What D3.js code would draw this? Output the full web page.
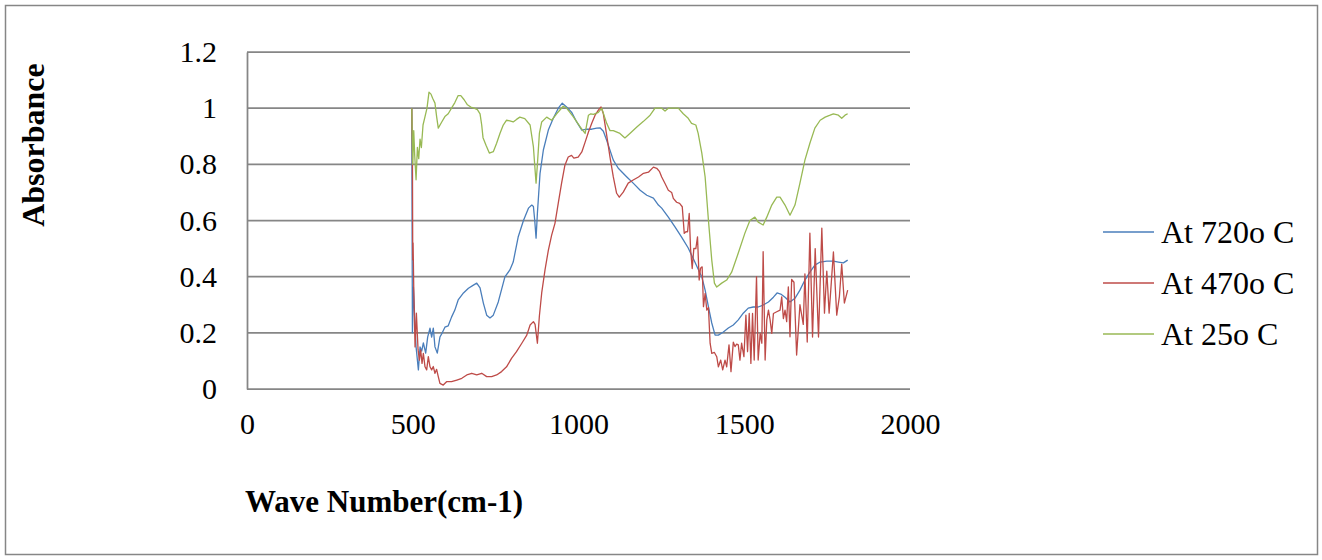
<!DOCTYPE html>
<html><head><meta charset="utf-8">
<script src="https://cdn.jsdelivr.net/npm/d3@7"></script>
<style>
html,body{margin:0;padding:0;background:#fff;}
svg{display:block;}
text{font-family:"Liberation Serif","Times New Roman",serif;fill:#000;}
</style></head>
<body>
<svg id="chart" width="1322" height="560"></svg>
<script>
// ---- data ----
const xTicks = [0, 500, 1000, 1500, 2000];
const yTicks = [0, 0.2, 0.4, 0.6, 0.8, 1, 1.2];
const yTickLabels = ["0", "0.2", "0.4", "0.6", "0.8", "1", "1.2"];
const seriesNames = ["At 720o C", "At 470o C", "At 25o C"];
const seriesColors = ["#4a7ebb", "#be4b48", "#98b954"];

const wn720 = [497,499,502,506,510,517,522,527,532,539,545,552,557,562,567,574,582,589,597,607,617,627,637,653,668,683,693,703,713,723,733,743,758,778,793,803,818,834,849,859,864,868,872,876,884,894,909,924,939,951,964,979,995,1010,1025,1040,1055,1065,1075,1085,1105,1120,1145,1165,1186,1206,1226,1241,1251,1271,1291,1311,1331,1351,1372,1382,1392,1402,1412,1422,1437,1452,1467,1482,1497,1512,1527,1542,1557,1573,1588,1599,1610,1623,1638,1653,1668,1683,1698,1713,1729,1749,1769,1784,1799,1812];
const abs720 = [1.0,0.2,0.363,0.25,0.15,0.068,0.15,0.135,0.164,0.128,0.185,0.217,0.185,0.217,0.15,0.128,0.185,0.2,0.22,0.225,0.256,0.281,0.317,0.342,0.359,0.37,0.377,0.36,0.306,0.263,0.253,0.263,0.31,0.399,0.424,0.452,0.541,0.6,0.644,0.655,0.65,0.6,0.537,0.626,0.768,0.851,0.922,0.964,1.0,1.018,1.004,0.986,0.95,0.922,0.925,0.925,0.929,0.93,0.918,0.886,0.815,0.786,0.756,0.733,0.708,0.69,0.68,0.655,0.644,0.612,0.577,0.541,0.502,0.452,0.399,0.352,0.292,0.235,0.192,0.192,0.203,0.217,0.228,0.246,0.27,0.288,0.292,0.292,0.299,0.31,0.327,0.342,0.338,0.327,0.31,0.323,0.352,0.388,0.416,0.441,0.452,0.455,0.455,0.452,0.449,0.459];

const wn470 = [497,499,500,501,503,507,511,516,520,524,528,532,537,542,547,552,557,562,567,572,577,582,592,602,617,633,648,663,678,693,708,723,738,753,768,783,798,813,829,844,854,864,869,876,882,889,899,909,919,929,939,949,959,969,979,986,999,1010,1020,1030,1040,1050,1060,1068,1075,1085,1095,1105,1115,1123,1135,1150,1165,1181,1196,1211,1226,1236,1244,1251,1261,1271,1281,1286,1296,1305,1313,1319,1324,1329,1334,1338,1343,1348,1354,1359,1364,1368,1373,1377,1382,1387,1392,1397,1402,1410,1417,1422,1429,1435,1442,1447,1454,1460,1467,1472,1477,1482,1487,1492,1499,1505,1510,1515,1520,1525,1530,1537,1542,1548,1553,1557,1563,1568,1573,1578,1583,1588,1598,1608,1613,1618,1623,1628,1633,1638,1643,1650,1658,1668,1678,1683,1690,1698,1706,1714,1724,1734,1742,1749,1756,1761,1769,1779,1787,1794,1802,1812];
const abs470 = [1.0,0.84,0.46,0.52,0.36,0.15,0.27,0.14,0.103,0.139,0.091,0.127,0.079,0.068,0.115,0.079,0.068,0.08,0.056,0.07,0.044,0.02,0.014,0.026,0.026,0.032,0.038,0.05,0.056,0.05,0.056,0.044,0.044,0.05,0.062,0.079,0.109,0.133,0.163,0.192,0.228,0.24,0.23,0.163,0.26,0.342,0.424,0.494,0.548,0.59,0.662,0.733,0.797,0.826,0.832,0.822,0.826,0.844,0.879,0.915,0.946,0.975,0.993,1.004,0.98,0.904,0.826,0.755,0.697,0.683,0.701,0.733,0.744,0.755,0.768,0.772,0.79,0.786,0.775,0.755,0.732,0.708,0.7,0.679,0.665,0.661,0.649,0.554,0.56,0.56,0.625,0.5,0.429,0.501,0.5,0.542,0.388,0.43,0.435,0.293,0.34,0.281,0.29,0.163,0.127,0.13,0.115,0.079,0.103,0.068,0.103,0.079,0.157,0.062,0.167,0.151,0.16,0.157,0.103,0.163,0.115,0.263,0.133,0.269,0.091,0.269,0.103,0.4,0.103,0.198,0.163,0.489,0.103,0.246,0.281,0.246,0.198,0.269,0.275,0.281,0.328,0.251,0.281,0.24,0.364,0.186,0.39,0.38,0.121,0.3,0.23,0.41,0.167,0.555,0.185,0.5,0.185,0.573,0.27,0.42,0.27,0.352,0.488,0.263,0.329,0.445,0.306,0.352];

const wn25 = [497,500,503,506,510,514,518,522,526,531,537,543,549,555,560,567,572,577,587,597,607,617,627,637,645,655,665,675,685,695,703,708,712,721,731,743,753,763,773,783,793,803,813,823,838,854,864,869,872,876,882,889,904,919,934,954,964,984,1005,1020,1030,1037,1045,1060,1070,1085,1095,1105,1125,1140,1155,1176,1196,1216,1231,1251,1261,1271,1301,1316,1331,1341,1354,1361,1372,1382,1392,1402,1410,1417,1432,1447,1462,1482,1502,1517,1532,1542,1557,1568,1583,1598,1608,1623,1638,1653,1668,1683,1698,1713,1729,1744,1759,1769,1784,1794,1804,1812];
const abs25 = [1.0,0.8,0.92,0.83,0.745,0.86,0.82,0.89,0.86,0.94,0.97,1.0,1.057,1.05,1.035,1.018,0.97,0.929,0.95,0.97,0.98,1.0,1.02,1.045,1.045,1.03,1.012,1.004,1.0,0.995,0.98,0.94,0.895,0.868,0.84,0.845,0.875,0.91,0.94,0.957,0.955,0.951,0.96,0.968,0.963,0.94,0.862,0.78,0.733,0.8,0.91,0.951,0.968,0.957,0.98,1.007,1.0,0.97,0.933,0.91,0.975,0.98,0.978,0.985,1.0,0.946,0.92,0.92,0.91,0.894,0.91,0.933,0.953,0.975,1.0,1.0,0.99,1.0,1.0,0.98,0.964,0.946,0.94,0.91,0.84,0.755,0.6,0.459,0.377,0.363,0.377,0.388,0.416,0.484,0.555,0.6,0.612,0.594,0.584,0.612,0.655,0.683,0.683,0.655,0.619,0.655,0.733,0.815,0.875,0.929,0.957,0.968,0.975,0.98,0.975,0.964,0.975,0.98];

// ---- chart ----
const svg = d3.select("#chart");
const x = d3.scaleLinear().domain([0, 2000]).range([247, 910]);
const y = d3.scaleLinear().domain([0, 1.2]).range([389, 52]);
const gridColor = "#868686";

// outer border
svg.append("rect").attr("x", 5.5).attr("y", 5.5).attr("width", 1312).attr("height", 549)
  .attr("fill", "#fff").attr("stroke", gridColor).attr("stroke-width", 1.5);

// gridlines
svg.append("g").selectAll("line").data(yTicks).join("line")
  .attr("x1", x(0)).attr("x2", x(2000))
  .attr("y1", d => y(d)).attr("y2", d => y(d))
  .attr("stroke", gridColor).attr("stroke-width", 1.75);

// y axis
const yAxis = d3.axisLeft(y).tickValues(yTicks)
  .tickFormat((d, i) => yTickLabels[i]).tickSize(0).tickPadding(30);
const gy = svg.append("g").attr("transform", `translate(${x(0)},0)`).call(yAxis);
gy.select(".domain").attr("stroke", gridColor).attr("stroke-width", 1.75);
gy.selectAll("text").attr("font-size", 30).attr("font-family", '"Liberation Serif","Times New Roman",serif').attr("fill", "#000");

// x axis labels
const xAxis = d3.axisBottom(x).tickValues(xTicks).tickFormat(d3.format("d")).tickSize(0).tickPadding(24);
const gx = svg.append("g").attr("transform", `translate(0,${y(0)})`).call(xAxis);
gx.select(".domain").remove();
gx.selectAll("text").attr("font-size", 30).attr("font-family", '"Liberation Serif","Times New Roman",serif').attr("fill", "#000");

// series lines
const series = [
  {xs: wn720, ys: abs720},
  {xs: wn470, ys: abs470},
  {xs: wn25, ys: abs25}
];
const line = d3.line().x(d => x(d[0])).y(d => y(d[1]));
series.forEach((s, i) => {
  const pts = s.xs.map((v, j) => [v, s.ys[j]]);
  svg.append("path").datum(pts).attr("d", line)
    .attr("fill", "none").attr("stroke", seriesColors[i])
    .attr("stroke-width", 1.3).attr("stroke-linejoin", "round");
});

// axis titles
svg.append("text").attr("x", 245).attr("y", 512)
  .attr("font-size", 31).attr("font-weight", "bold").text("Wave Number(cm-1)");
svg.append("text").attr("transform", "translate(44,145) rotate(-90)")
  .attr("text-anchor", "middle").attr("font-size", 32).attr("font-weight", "bold").text("Absorbance");

// legend
const legY = d3.scalePoint().domain(seriesNames).range([232, 334]);
const leg = svg.append("g");
seriesNames.forEach((n, i) => {
  leg.append("line").attr("x1", 1103).attr("x2", 1154)
    .attr("y1", legY(n)).attr("y2", legY(n))
    .attr("stroke", seriesColors[i]).attr("stroke-width", 1.3);
  leg.append("text").attr("x", 1161).attr("y", legY(n) + 10.5)
    .attr("font-size", 32).text(n);
});
</script>
</body></html>
